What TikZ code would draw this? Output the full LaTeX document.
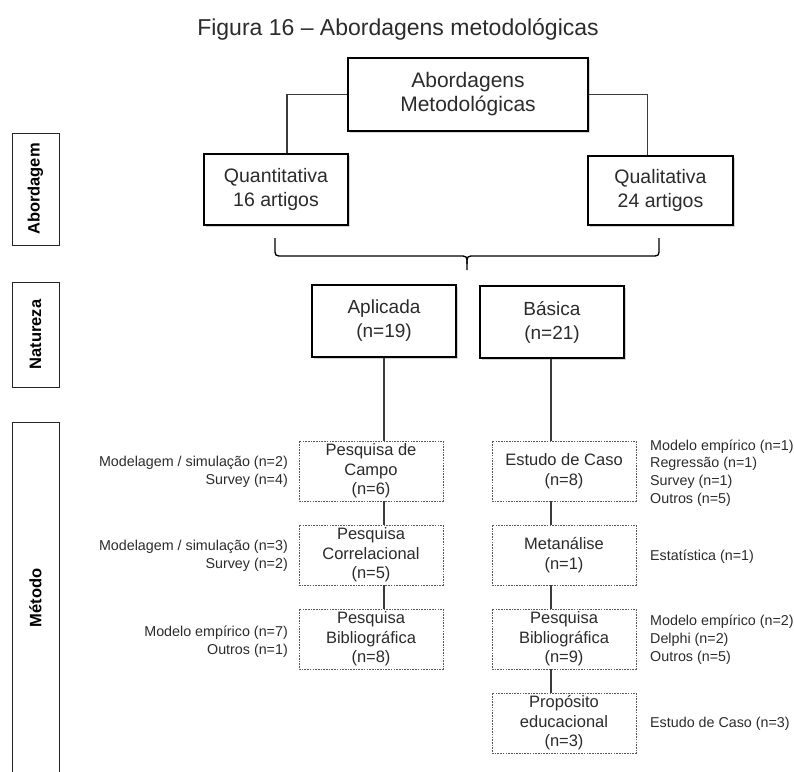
\documentclass[tikz,border=0pt]{standalone}
\usepackage{fontspec}
\setmainfont{Liberation Sans}
\usetikzlibrary{shadows,calc}
\definecolor{ink}{HTML}{2B2B2B}
\definecolor{wire}{HTML}{3A3A3A}
\begin{document}
\begin{tikzpicture}[x=1pt,y=-1pt,
  solidbox/.style={draw=black, line width=1.4pt, fill=white, inner sep=0pt,
    align=center, text=ink,
    drop shadow={shadow xshift=2.2pt, shadow yshift=-2.2pt, opacity=0.35}},
  methbox/.style={draw=black!65, line width=0.7pt, dash pattern=on 1.6pt off 1.1pt,
    fill=white, inner sep=0pt, align=center, text=ink,
    minimum width=144pt, minimum height=60pt,
    font=\fontsize{16.5}{19.5}\selectfont},
  sidebox/.style={draw=black!85, line width=1pt, inner sep=0pt, rotate=90,
    minimum height=47pt, text=black,
    font=\fontsize{16.5}{19}\selectfont\bfseries},
  note/.style={inner sep=0pt, text=ink, font=\fontsize{14.3}{17.8}\selectfont},
  wireline/.style={draw=wire, line width=1.3pt},
]
\useasboundingbox (0,0) rectangle (794,771);

% caption
\node[anchor=base, text=ink, font=\fontsize{23}{27}\selectfont] (title) at (398,35)
  {Figura 16 – Abordagens metodológicas};

% approach level
\node[solidbox, minimum width=240pt, minimum height=73pt,
  font=\fontsize{21}{24}\selectfont] (top) at (468,94.5)
  {Abordagens\\Metodológicas};
\node[solidbox, minimum width=144pt, minimum height=71pt,
  font=\fontsize{19.5}{24}\selectfont] (quant) at (276,189.5)
  {Quantitativa\\16 artigos};
\node[solidbox, minimum width=145pt, minimum height=69pt,
  font=\fontsize{19.5}{24}\selectfont] (qual) at (660.5,190.5)
  {Qualitativa\\24 artigos};

\draw[wireline] (top.west) -| ([xshift=11pt]quant.north);
\draw[wireline] (top.east) -| ([xshift=-13pt]qual.north);

% brace gathering both approaches
\coordinate (bl) at (275,238);
\coordinate (br) at (659,238);
\coordinate (bt) at (467,270);
\draw[black, line width=1.3pt]
  (bl) -- ($(bl)+(0,10)$) .. controls ($(bl)+(0,18)$) .. ($(bl)+(8,18)$)
  -- ($(bt)+(-8,-14)$) .. controls ($(bt)+(0,-14)$) .. ($(bt)+(0,-6)$) -- (bt);
\draw[black, line width=1.3pt]
  (br) -- ($(br)+(0,10)$) .. controls ($(br)+(0,18)$) .. ($(br)+(-8,18)$)
  -- ($(bt)+(8,-14)$) .. controls ($(bt)+(0,-14)$) .. ($(bt)+(0,-6)$);

% nature level
\node[solidbox, minimum width=144pt, minimum height=72pt,
  font=\fontsize{19}{24}\selectfont] (apl) at (384,321)
  {Aplicada\\(n=19)};
\node[solidbox, minimum width=144pt, minimum height=72pt,
  font=\fontsize{19}{24}\selectfont] (bas) at (552,322)
  {Básica\\(n=21)};

% method level, applied research
\node[methbox] (campo) at (371,471) {Pesquisa de\\Campo\\(n=6)};
\node[methbox] (corr)  at (371,555) {Pesquisa\\Correlacional\\(n=5)};
\node[methbox] (bibA)  at (371,639) {Pesquisa\\Bibliográfica\\(n=8)};

% method level, basic research
\node[methbox] (caso)  at (564,471) {Estudo de Caso\\(n=8)};
\node[methbox] (meta)  at (564,555) {Metanálise\\(n=1)};
\node[methbox] (bibB)  at (564,639) {Pesquisa\\Bibliográfica\\(n=9)};
\node[methbox] (edu)   at (564,723) {Propósito\\educacional\\(n=3)};

\draw[wireline] (apl.south) -- (apl.south |- campo.north);
\draw[wireline] (apl.south |- campo.south) -- (apl.south |- corr.north);
\draw[wireline] (apl.south |- corr.south) -- (apl.south |- bibA.north);

\draw[wireline] ([xshift=-1pt]bas.south) -- ([xshift=-1pt]bas.south |- caso.north);
\draw[wireline] ([xshift=-1pt]bas.south |- caso.south) -- ([xshift=-1pt]bas.south |- meta.north);
\draw[wireline] ([xshift=-1pt]bas.south |- meta.south) -- ([xshift=-1pt]bas.south |- bibB.north);
\draw[wireline] ([xshift=-1pt]bas.south |- bibB.south) -- ([xshift=-1pt]bas.south |- edu.north);

% technique notes
\node[note, anchor=east, align=right] (nCampo) at (288,472)
  {Modelagem / simulação (n=2)\\Survey (n=4)};
\node[note, anchor=east, align=right] (nCorr) at (288,556)
  {Modelagem / simulação (n=3)\\Survey (n=2)};
\node[note, anchor=east, align=right] (nBibA) at (288,642)
  {Modelo empírico (n=7)\\Outros (n=1)};

\node[note, anchor=west, align=left] (nCaso) at (650,473)
  {Modelo empírico (n=1)\\Regressão (n=1)\\Survey (n=1)\\Outros (n=5)};
\node[note, anchor=west, align=left] (nMeta) at (650,557)
  {Estatística (n=1)};
\node[note, anchor=west, align=left] (nBibB) at (650,640)
  {Modelo empírico (n=2)\\Delphi (n=2)\\Outros (n=5)};
\node[note, anchor=west, align=left] (nEdu) at (650,724)
  {Estudo de Caso (n=3)};

% level labels on the left margin
\node[sidebox, minimum width=112pt] (lAb)  at (35.5,189)   {Abordagem};
\node[sidebox, minimum width=105pt] (lNat) at (35.5,334.5) {Natureza};
\node[sidebox, minimum width=352pt] (lMet) at (35.5,598)   {Método};
\end{tikzpicture}
\end{document}
